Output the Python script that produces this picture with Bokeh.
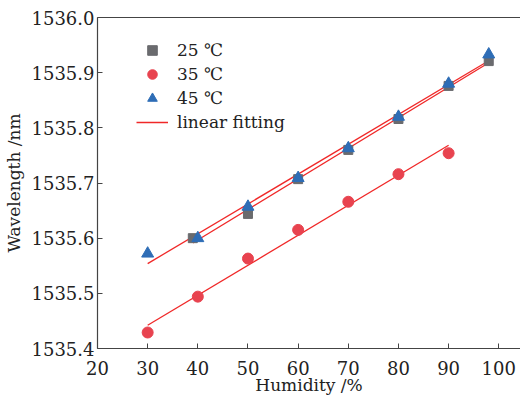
import numpy as np
from bokeh.plotting import figure
from bokeh.models import (Range1d, Legend, LegendItem, LinearAxis, FixedTicker,
                          CustomJSTickFormatter)
from bokeh.embed import file_html
from bokeh.resources import INLINE

# Data
x25 = [39, 50, 60, 70, 80, 90, 98]
y25 = [1535.600, 1535.644, 1535.707, 1535.760, 1535.816, 1535.876, 1535.921]
x35 = [30, 40, 50, 60, 70, 80, 90]
y35 = [1535.429, 1535.494, 1535.563, 1535.615, 1535.666, 1535.716, 1535.754]
x45 = [30, 40, 50, 60, 70, 80, 90, 98]
y45 = [1535.572, 1535.600, 1535.657, 1535.709, 1535.763, 1535.820, 1535.880, 1535.933]

labels = ["25 \u2103", "35 \u2103", "45 \u2103", "linear fitting"]
x_ticks = [20, 30, 40, 50, 60, 70, 80, 90, 100]
y_ticks = [1535.4, 1535.5, 1535.6, 1535.7, 1535.8, 1535.9, 1536.0]

FONT = "'DejaVu Serif', serif"
AX = "#444444"
GRAY = "#6a6b6e"
RED = "#e8434f"
BLUE = "#2e6db6"
LINE = "#f02828"

p = figure(width=520, height=397, output_backend="svg", toolbar_location=None,
           x_range=Range1d(20, 104.33), y_range=Range1d(1535.4, 1536.0),
           min_border_left=92, min_border_right=0, min_border_top=17, min_border_bottom=48)
p.outline_line_color = None
p.grid.visible = False
p.background_fill_color = "white"
p.border_fill_color = "white"

def fit(xs, ys):
    k, b = np.polyfit(xs, ys, 1)
    xe = [min(xs), max(xs)]
    return xe, [k * v + b for v in xe]

fx, fy = fit(x25, y25)
l1 = p.line(fx, fy, color=LINE, line_width=1.3)
fx, fy = fit(x35, y35)
p.line(fx, fy, color=LINE, line_width=1.3)
fx, fy = fit(x45, y45)
p.line(fx, fy, color=LINE, line_width=1.3)

r25 = p.scatter(x25, y25, marker="square", size=9, color=GRAY)
r35 = p.scatter(x35, y35, marker="circle", size=11, color=RED)
r45 = p.scatter(x45, y45, marker="triangle", size=12, color=BLUE)

for ax in (p.xaxis[0], p.yaxis[0]):
    ax.axis_line_color = AX
    ax.axis_line_width = 1.2
    ax.major_tick_line_color = AX
    ax.major_tick_in = 5
    ax.major_tick_out = 0
    ax.minor_tick_line_color = None
    ax.major_label_text_font = FONT
    ax.major_label_text_font_size = "18px"
    ax.major_label_text_color = "#222222"
    ax.axis_label_text_font = FONT
    ax.axis_label_text_font_size = "17px"
    ax.axis_label_text_font_style = "normal"
    ax.axis_label_text_color = "#222222"

p.xaxis.ticker = FixedTicker(ticks=x_ticks)
p.yaxis.ticker = FixedTicker(ticks=y_ticks)
p.yaxis.formatter = CustomJSTickFormatter(code="return tick.toFixed(1);")
p.xaxis.axis_label = "Humidity /%"
p.yaxis.axis_label = "Wavelength /nm"
p.xaxis.major_label_standoff = 12
p.yaxis.major_label_standoff = 3
p.xaxis.axis_label_standoff = -3
p.yaxis.axis_label_standoff = 5

top = LinearAxis(axis_line_color=AX, axis_line_width=1.2, major_tick_line_color=None,
                 minor_tick_line_color=None, ticker=FixedTicker(ticks=[]),
                 major_label_standoff=0)
p.add_layout(top, "above")

legend = Legend(items=[LegendItem(label=labels[0], renderers=[r25]),
                       LegendItem(label=labels[1], renderers=[r35]),
                       LegendItem(label=labels[2], renderers=[r45]),
                       LegendItem(label=labels[3], renderers=[l1])],
                location=(39, 214), padding=0, spacing=0, margin=0,
                glyph_width=32, glyph_height=24, label_height=24, label_standoff=9,
                label_text_font=FONT, label_text_font_size="17px",
                label_text_color="#222222",
                border_line_color=None, background_fill_alpha=0)
p.add_layout(legend, "center")

open("out.html", "w").write(file_html(p, INLINE))
